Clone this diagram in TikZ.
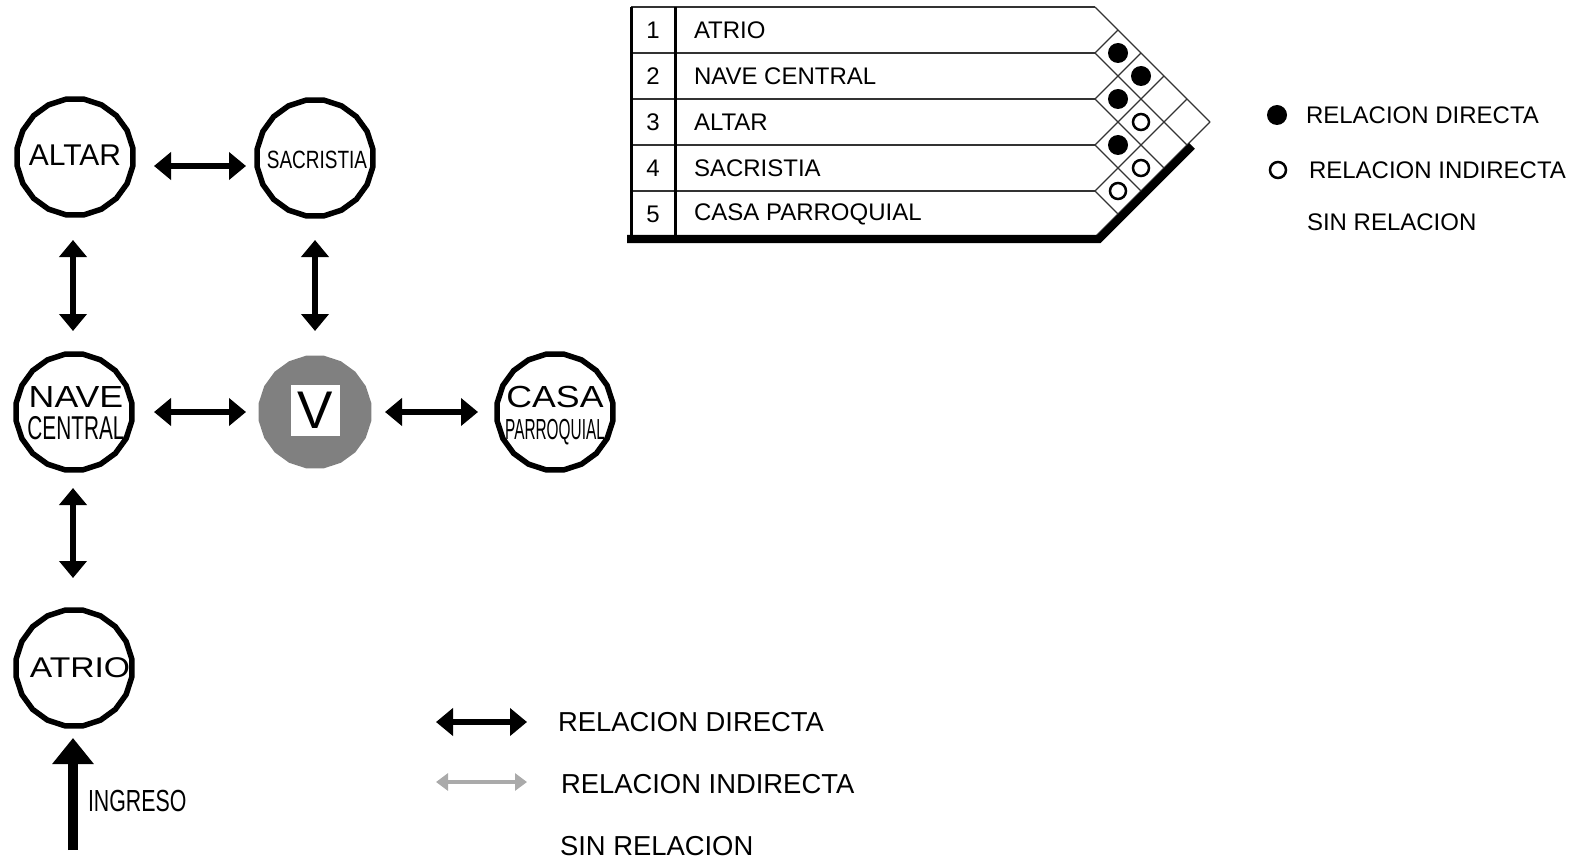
\documentclass[tikz,border=0pt]{standalone}
\usepackage{fontspec}
\setmainfont{Liberation Sans}
\usepackage{graphicx}
\usetikzlibrary{arrows.meta,shapes.geometric,calc}
\definecolor{vgray}{HTML}{808080}
\definecolor{indgray}{HTML}{AAAAAA}
\definecolor{gridgray}{HTML}{333333}
\newcommand{\ntext}[3]{\scalebox{#1}[1]{\fontsize{#2}{#2}\selectfont #3}}
\begin{document}
\begin{tikzpicture}[x=1pt,y=-1pt,
  room/.style={regular polygon, regular polygon sides=20, minimum size=117pt, draw, line width=5.5pt, inner sep=0pt, outer sep=0pt},
  vroom/.style={regular polygon, regular polygon sides=20, minimum size=114pt, fill=vgray, inner sep=0pt, outer sep=0pt},
  lbl/.style={inner sep=0pt, outer sep=0pt},
  dirarrow/.style={line width=6pt, {Triangle[length=17pt,width=27pt]}-{Triangle[length=17pt,width=27pt]}},
  indarrow/.style={line width=4pt, draw=indgray, {Triangle[length=12pt,width=17pt]}-{Triangle[length=12pt,width=17pt]}},
  ingarrow/.style={line width=10pt, -{Triangle[length=26pt,width=40pt]}},
  gridline/.style={line width=1.2pt, draw=gridgray},
  txt/.style={inner sep=0pt, outer sep=0pt, anchor=west, font=\fontsize{24}{24}\selectfont},
  bigtxt/.style={inner sep=0pt, outer sep=0pt, anchor=west, font=\fontsize{27.4}{27.4}\selectfont}
]
\useasboundingbox (0,0) rectangle (1590,861);

% ---------- rooms ----------
\node[room] (altar) at (75,157) {};
\node[room] (sacristia) at (315,158) {};
\node[room] (nave) at (74,412) {};
\node[vroom] (vnode) at (315,412) {};
\node[room] (casa) at (555,412) {};
\node[room] (atrio) at (74,668) {};

\node[lbl] (altarT) at ($(altar)+(0,-2)$) {\ntext{1.0}{30}{ALTAR}};
\node[lbl] (sacrT) at ($(sacristia)+(2,2)$) {\ntext{0.76}{25}{SACRISTIA}};
\node[lbl] (naveT) at ($(nave)+(2,-15)$) {\ntext{1.17}{30.5}{NAVE}};
\node[lbl] (centralT) at ($(nave)+(2,16)$) {\ntext{0.63}{33}{CENTRAL}};
\node[lbl] (casaT) at ($(casa)+(0,-15)$) {\ntext{1.17}{30.5}{CASA}};
\node[lbl, anchor=base] (parrT) at ($(casa)+(0,27)$) {\ntext{0.53}{29}{PARROQUIAL}};
\node[lbl] (atrioT) at ($(atrio)+(6,0)$) {\ntext{1.18}{28.5}{ATRIO}};
\node[fill=white, minimum width=49pt, minimum height=51pt, inner sep=0pt] (vbox) at ($(vnode)+(0,-2)$) {\fontsize{53}{53}\selectfont V};

% ---------- connectors ----------
\draw[dirarrow] ($(altar)+(79,9)$) -- ($(sacristia)+(-69,8)$);
\draw[dirarrow] ($(nave)+(80,0)$) -- ($(vnode)+(-69,0)$);
\draw[dirarrow] ($(vnode)+(70,0)$) -- ($(casa)+(-77,0)$);
\draw[dirarrow] ($(altar)+(-2,83)$) -- ($(nave)+(-1,-81)$);
\draw[dirarrow] ($(sacristia)+(0,82)$) -- ($(vnode)+(0,-81)$);
\draw[dirarrow] ($(nave)+(-1,76)$) -- ($(atrio)+(-1,-90)$);

\coordinate (ingStart) at (73,850);
\draw[ingarrow] (ingStart) -- ($(atrio)+(-1,70)$);
\node[lbl, anchor=west] (ingT) at (88,801) {\ntext{0.70}{30.5}{INGRESO}};

% ---------- bottom legend ----------
\coordinate (ldA) at (436,722);
\coordinate (ldB) at (527,722);
\coordinate (liA) at (436,782);
\coordinate (liB) at (527,782);
\draw[dirarrow] (ldA) -- (ldB);
\draw[indarrow] (liA) -- (liB);
\node[bigtxt] (lgd1) at (558,722) {RELACION DIRECTA};
\node[bigtxt] (lgd2) at (561,784) {RELACION INDIRECTA};
\node[bigtxt] (lgd3) at (560,846) {SIN RELACION};

% ---------- matrix ----------
\foreach \k in {0,...,4} {
  \draw[gridline] (631,{7+46*\k}) -- (1095,{7+46*\k});
}
\foreach \k in {0,...,5} {
  \draw[gridline] (1095,{7+46*\k}) -- ({1210-23*\k},{122+23*\k});
  \draw[gridline] (1095,{7+46*\k}) -- ({1095+23*\k},{7+23*\k});
}
\draw[line width=3pt] (631,7) -- (631,239);
\draw[line width=3pt] (675,7) -- (675,239);
\draw[line width=8pt] (627,239) -- (1099,239) -- (1192,146);

\foreach \i/\name in {1/ATRIO,2/NAVE CENTRAL,3/ALTAR,4/SACRISTIA,5/CASA PARROQUIAL} {
  \node[lbl, font=\fontsize{24}{24}\selectfont] (num\i) at (653,{7+46*(\i-0.5)}) {\i};
  \node[txt] (row\i) at (694,{7+46*(\i-0.5)}) {\name};
}

% filled = direct, open = indirect
\fill (1118,53) circle (10);
\fill (1118,99) circle (10);
\fill (1118,145) circle (10);
\fill (1141,76) circle (10);
\draw[line width=2.5pt] (1118,191) circle (8);
\draw[line width=2.5pt] (1141,122) circle (8);
\draw[line width=2.5pt] (1141,168) circle (8);

% ---------- right legend ----------
\fill (1277,115) circle (10);
\draw[line width=2.5pt] (1278,170) circle (8);
\node[txt] (rl1) at (1306,115) {RELACION DIRECTA};
\node[txt] (rl2) at (1309,170) {RELACION INDIRECTA};
\node[txt] (rl3) at (1307,222) {SIN RELACION};
\end{tikzpicture}
\end{document}
